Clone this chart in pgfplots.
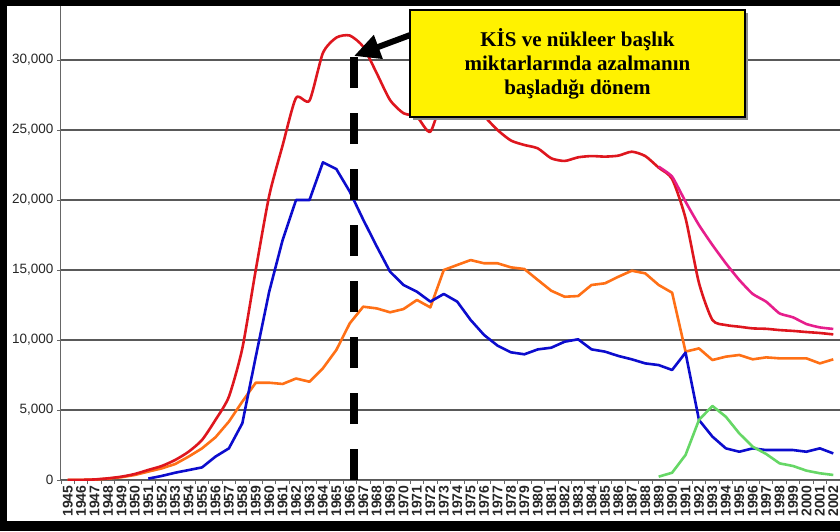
\documentclass[border=0pt]{standalone}
\usepackage{pgfplots}
\pgfplotsset{compat=1.18}
\usetikzlibrary{arrows.meta}
\usepackage{fontspec}
\setmainfont{Liberation Sans}
\newfontfamily\tnr{Liberation Serif}
\definecolor{cRed}{RGB}{222,22,30}
\definecolor{cBlue}{RGB}{12,12,205}
\definecolor{cOrange}{RGB}{255,112,22}
\definecolor{cMag}{RGB}{230,30,140}
\definecolor{cGreen}{RGB}{102,215,102}
\begin{document}
\begin{tikzpicture}
\useasboundingbox (-61pt,-51pt) rectangle (779pt,480pt);
\begin{axis}[
  scale only axis, width=779pt, height=475pt,
  xmin=1944.5, xmax=2002.5, ymin=0, ymax=33930,
  axis x line*=bottom, axis y line*=left,
  axis line style={draw=black!60, line width=1pt},
  ytick={0,5000,...,30000},
  scaled y ticks=false,
  ymajorgrids, grid style={draw=black!65, line width=1.1pt},
  xtick={1944.5,1945.5,...,2002.5},
  xticklabels={},
  extra x ticks={1945,1946,...,2002},
  extra x tick style={major tick length=0pt},
  tick align=outside, major tick length=4pt,
  tick style={draw=black!60, line width=0.8pt},
  /pgf/number format/assume math mode=true,
  yticklabel style={font=\fontsize{13.5}{16}\selectfont, text=black!85},
  xticklabel style={rotate=90, anchor=east, xshift=-2pt, font=\bfseries\fontsize{14}{16}\selectfont, text=black!85, /pgf/number format/1000 sep={}},
  every axis plot/.append style={line width=2.6pt, line join=round, no markers},
]
\addplot[cOrange] coordinates {
(1945,0)(1946,10)(1947,30)(1948,100)(1949,200)(1950,360)(1951,600)(1952,830)(1953,1140)(1954,1670)
(1955,2260)(1956,3050)(1957,4170)(1958,5600)(1959,6950)(1960,6950)(1961,6860)(1962,7250)(1963,7020)(1964,7980)
(1965,9290)(1966,11190)(1967,12380)(1968,12260)(1969,11980)(1970,12210)(1971,12860)(1972,12330)(1973,15000)(1974,15360)
(1975,15710)(1976,15480)(1977,15480)(1978,15190)(1979,15070)(1980,14290)(1981,13520)(1982,13090)(1983,13140)(1984,13930)
(1985,14050)(1986,14520)(1987,14950)(1988,14760)(1989,13930)(1990,13380)(1991,9170)(1992,9400)(1993,8570)(1994,8810)
(1995,8930)(1996,8620)(1997,8760)(1998,8690)(1999,8690)(2000,8690)(2001,8330)(2002,8620)};
\addplot[cBlue] coordinates {
(1951,100)(1952,290)(1953,520)(1954,710)
(1955,900)(1956,1670)(1957,2260)(1958,4050)(1959,8800)(1960,13450)(1961,17140)(1962,20000)(1963,20000)(1964,22690)
(1965,22210)(1966,20600)(1967,18600)(1968,16700)(1969,14880)(1970,13930)(1971,13450)(1972,12740)(1973,13290)(1974,12740)
(1975,11430)(1976,10360)(1977,9600)(1978,9120)(1979,8980)(1980,9330)(1981,9450)(1982,9880)(1983,10050)(1984,9330)
(1985,9170)(1986,8860)(1987,8620)(1988,8330)(1989,8210)(1990,7860)(1991,9100)(1992,4290)(1993,3100)(1994,2260)
(1995,2020)(1996,2260)(1997,2140)(1998,2140)(1999,2140)(2000,2020)(2001,2260)(2002,1900)};
\addplot[cRed, smooth, tension=0.4] coordinates {
(1945,0)(1946,10)(1947,40)(1948,120)(1949,240)(1950,430)(1951,720)(1952,1000)(1953,1430)(1954,2020)
(1955,2860)(1956,4290)(1957,5950)(1958,9400)(1959,15000)(1960,20300)(1961,23900)(1962,27300)(1963,27100)(1964,30500)
(1965,31600)(1966,31750)(1967,30950)(1968,29070)(1969,27140)(1970,26200)(1971,25950)(1972,24880)(1973,27500)(1974,27800)
(1975,27000)(1976,26000)(1977,25000)(1978,24250)(1979,23930)(1980,23690)(1981,22980)(1982,22790)(1983,23050)(1984,23140)
(1985,23100)(1986,23170)(1987,23450)(1988,23140)(1989,22310)(1990,21500)(1991,18700)(1992,14070)(1993,11430)(1994,11070)
(1995,10950)(1996,10830)(1997,10800)(1998,10710)(1999,10650)(2000,10570)(2001,10500)(2002,10400)};
\addplot[cMag, smooth, tension=0.3] coordinates {
(1989,22380)(1990,21670)(1991,19880)(1992,18210)(1993,16790)(1994,15480)(1995,14290)(1996,13290)(1997,12740)(1998,11900)
(1999,11620)(2000,11140)(2001,10900)(2002,10790)};
\addplot[cGreen] coordinates {
(1989,240)(1990,520)(1991,1790)(1992,4290)(1993,5290)(1994,4520)(1995,3330)(1996,2380)(1997,1860)(1998,1190)
(1999,1000)(2000,670)(2001,480)(2002,360)};
\draw[black, line width=7.5pt, dash pattern=on 31.3pt off 24.7pt] (axis cs:1966.32,0) -- (axis cs:1966.32,30236);
\end{axis}
% frame
\fill[black] (-61pt,-51pt) rectangle (-54pt,480pt);
\fill[black] (-61pt,474pt) rectangle (779pt,480pt);
\fill[black] (-61pt,-51pt) rectangle (779pt,-41pt);
% arrow and box
\draw[black, line width=6pt, -{Triangle[length=26pt,width=24pt]}] (360pt,449pt) -- (293pt,424pt);
\fill[black!45] (352pt,360pt) rectangle (687pt,467pt);
\draw[fill=yellow, draw=black, line width=1.8pt] (349pt,363pt) rectangle (684pt,470pt);
\node[align=center, font=\tnr\bfseries\fontsize{21}{24}\selectfont] at (516.5pt,416.5pt) {KİS ve nükleer başlık\\miktarlarında azalmanın\\başladığı dönem};
\end{tikzpicture}
\end{document}
